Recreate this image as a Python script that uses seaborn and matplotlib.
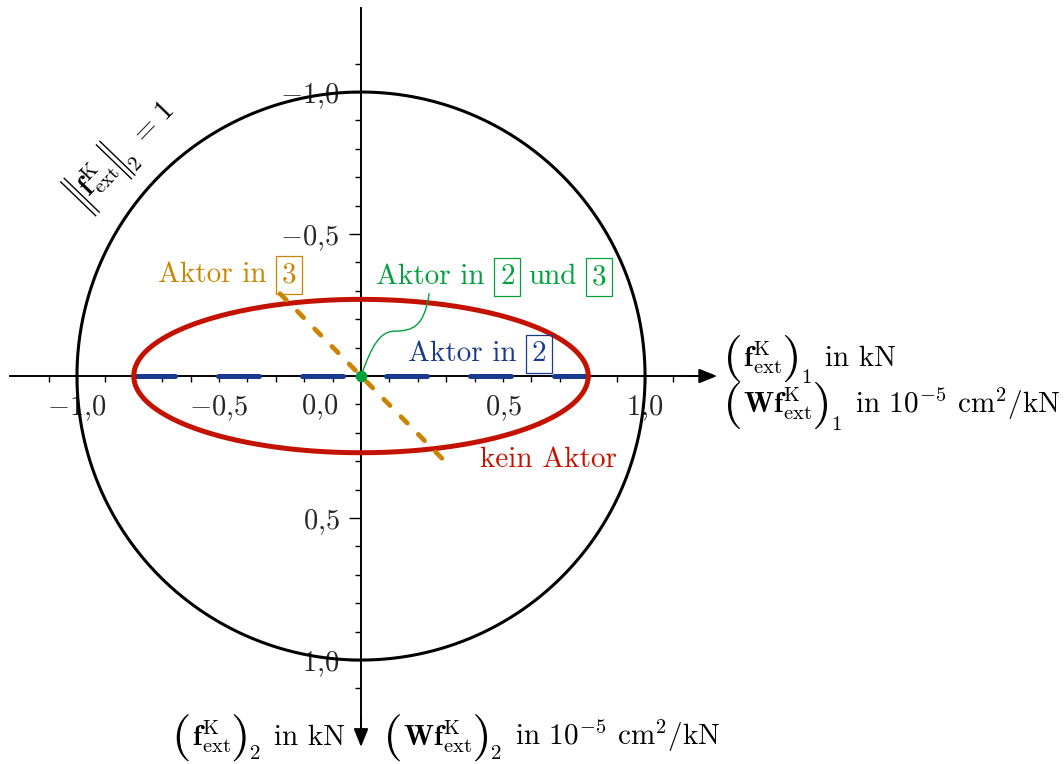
import numpy as np
import matplotlib
matplotlib.use("Agg")
import matplotlib.pyplot as plt
import seaborn as sns
from matplotlib.path import Path
from matplotlib.patches import PathPatch
from matplotlib.textpath import TextPath
from matplotlib.font_manager import FontProperties
from matplotlib.transforms import Affine2D, IdentityTransform
from matplotlib.ticker import FixedLocator

# ---- data -------------------------------------------------------------
circle_radius = 1.0                 # ||f_ext^K||_2 = 1
ellipse_semi_axes = [0.8, 0.27]     # kein Aktor: semi-axes in direction 1 / 2
actor2_span = [-0.8, 0.8]           # Aktor in 2: segment along direction 1
actor3_x = [-0.285, 0.285]          # Aktor in 3: segment end points
actor3_y = [-0.29, 0.29]
actor23_point = [0.0, 0.0]          # Aktor in 2 und 3

major_ticks = [-1.0, -0.5, 0.5, 1.0]
tick_labels = [r"$-1{,}0$", r"$-0{,}5$", r"$0{,}5$", r"$1{,}0$"]
minor_ticks = np.round(np.arange(-1.1, 1.11, 0.1), 2)

# ---- colours ----------------------------------------------------------
RED = "#C41200"
BLUE = "#1A3A8F"
ORANGE = "#CC8400"
GREEN = "#00A03A"

sns.set_theme(style="white")
plt.rcParams["mathtext.fontset"] = "cm"
plt.rcParams["font.family"] = ["cmr10", "DejaVu Serif"]
FS = 21
SUB = 15

fig = plt.figure(figsize=(10.64, 7.64), dpi=100)
ax = fig.add_axes([0, 0, 1, 1])
ax.set_facecolor("white")

# ---- curves -----------------------------------------------------------
t = np.linspace(0, 2 * np.pi, 721)
sns.lineplot(x=circle_radius * np.cos(t), y=circle_radius * np.sin(t),
             sort=False, estimator=None, color="black", lw=2.2, ax=ax, zorder=3)

sns.lineplot(x=actor2_span, y=[0, 0], sort=False, estimator=None,
             color=BLUE, lw=3.6, ax=ax, zorder=3.5,
             linestyle=(0, (8.2, 8.6)), dash_capstyle="round")

a, b = ellipse_semi_axes
sns.lineplot(x=a * np.cos(t), y=b * np.sin(t), sort=False, estimator=None,
             color=RED, lw=3.6, ax=ax, zorder=4)

sns.lineplot(x=actor3_x, y=actor3_y, sort=False, estimator=None,
             color=ORANGE, lw=3.4, ax=ax, zorder=5,
             linestyle=(0, (1.9, 3.32)), dash_capstyle="round")

# leader line from the common point to its label
x0, y0 = actor23_point
lead = np.array([[0.000, 0.000], [0.039, -0.109], [0.067, -0.162],
                 [0.127, -0.158], [0.175, -0.162], [0.222, -0.165],
                 [0.240, -0.292]])
lead = lead + np.array([x0, y0])
codes = [Path.MOVETO] + [Path.CURVE4] * 6
ax.add_patch(PathPatch(Path(lead, codes), fc="none", ec=GREEN, lw=1.0, zorder=6))

sns.scatterplot(x=[x0], y=[y0], color=GREEN, s=70, edgecolor=GREEN,
                linewidth=0, ax=ax, zorder=7)

# ---- axes through the origin -----------------------------------------
ax.set_xlim(-1.271, 2.475)
ax.set_ylim(1.366, -1.324)
ax.set_xlabel("")
ax.set_ylabel("")
for side in ("top", "right"):
    ax.spines[side].set_visible(False)
ax.spines["left"].set_position(("data", 0))
ax.spines["bottom"].set_position(("data", 0))
ax.spines["bottom"].set_bounds(-1.236, 1.22)
ax.spines["left"].set_bounds(-1.296, 1.27)
for side in ("left", "bottom"):
    ax.spines[side].set_linewidth(1.4)
    ax.spines[side].set_color("black")
    ax.spines[side].set_zorder(2.6)

arrow_kw = dict(arrowstyle="-|>,head_length=0.55,head_width=0.22",
                color="black", lw=1.4, mutation_scale=20, shrinkA=0, shrinkB=0)
ax.annotate("", xy=(1.254, 0), xytext=(1.15, 0), arrowprops=arrow_kw, zorder=2.6)
ax.annotate("", xy=(0, 1.306), xytext=(0, 1.2), arrowprops=arrow_kw, zorder=2.6)

ax.set_xticks(major_ticks, labels=tick_labels)
ax.set_yticks(major_ticks, labels=tick_labels)
ax.xaxis.set_minor_locator(FixedLocator(minor_ticks))
ax.yaxis.set_minor_locator(FixedLocator(minor_ticks))
ax.tick_params(axis="x", which="both", direction="out", bottom=True,
               length=4.5, width=1.0, color="black", labelsize=20.5, pad=8)
ax.tick_params(axis="y", which="major", direction="out", left=True,
               length=8.5, width=1.0, color="black", labelsize=20.5, pad=7)
ax.tick_params(axis="y", which="minor", direction="out", left=True,
               length=4, width=1.0, color="black")
ax.grid(False)

ax.annotate(r"$0{,}0$", xy=(0, 0), xytext=(-16.5, -22.5), textcoords="offset points",
            ha="right", va="center", fontsize=20.5)

# ---- text built from pieces (large delimiters, boxed numbers) ---------
renderer = fig.canvas.get_renderer()
CMR = FontProperties(family="cmr10")


def T(s, gap=0.0, fs=FS, dy=0.0, box=False):
    return dict(kind="text", s=s, gap=gap, fs=fs, dy=dy, box=box)


def D(ch, gap=0.0, h=47.0, w=12.0, cy=7.5):
    return dict(kind="delim", ch=ch, gap=gap, h=h, w=w, cy=cy, dy=0.0)


def rich(x, y, pieces, color="black", angle=0.0, align="left"):
    """Lay out pieces along a baseline starting at data point (x, y)."""
    widths = []
    for p in pieces:
        if p["kind"] == "text":
            tmp = fig.text(0, 0, p["s"], fontsize=p["fs"])
            widths.append(tmp.get_window_extent(renderer).width)
            tmp.remove()
        else:
            widths.append(p["w"])
    total = sum(widths) + sum(p["gap"] for p in pieces)
    u = {"left": 0.0, "right": -total, "center": -total / 2}[align]
    px, py = ax.transData.transform((x, y))
    c, s = np.cos(np.radians(angle)), np.sin(np.radians(angle))
    for p, wdt in zip(pieces, widths):
        u += p["gap"]
        v = p["dy"]
        ax_, ay_ = px + u * c - v * s, py + u * s + v * c
        if p["kind"] == "text":
            kw = {}
            if p["box"]:
                kw["bbox"] = dict(boxstyle="square,pad=0.19", fc="none",
                                  ec=color, lw=0.9)
            fig.text(ax_, ay_, p["s"], fontsize=p["fs"], color=color,
                     transform=IdentityTransform(), ha="left", va="baseline",
                     rotation=angle, rotation_mode="anchor", zorder=8, **kw)
        else:
            if p["ch"] == "||":
                hh = p["h"] / 2
                path = Path([(0.75, -hh), (0.75, hh), (p["w"] - 0.75, -hh),
                             (p["w"] - 0.75, hh)],
                            [Path.MOVETO, Path.LINETO, Path.MOVETO, Path.LINETO])
                tr = (Affine2D().translate(0, p["cy"]).rotate_deg(angle)
                      .translate(ax_, ay_))
                fig.add_artist(PathPatch(path, transform=tr, fc="none",
                                         ec=color, lw=1.0, zorder=8))
            else:
                path = TextPath((0, 0), p["ch"], size=40, prop=CMR)
                e = path.get_extents()
                tr = (Affine2D().translate(-e.x0, -(e.y0 + e.y1) / 2)
                      .scale(p["w"] / e.width, p["h"] / e.height)
                      .translate(0, p["cy"]).rotate_deg(angle)
                      .translate(ax_, ay_))
                fig.add_artist(PathPatch(path, transform=tr, fc=color,
                                         ec="none", zorder=8))
        u += wdt


f_ext = r"$\mathbf{f}^{\mathrm{K}}_{\mathrm{ext}}$"
wf_ext = r"$\mathbf{W}\mathbf{f}^{\mathrm{K}}_{\mathrm{ext}}$"
unit_w = r"in $10^{-5}$ cm$^2$/kN"


def comp_label(core, idx, unit, drop=-17):
    return [D("("), T(core, gap=3), D(")", gap=3),
            T(idx, gap=4, fs=SUB, dy=drop), T(unit, gap=14)]


rich(1.292, -0.035, comp_label(f_ext, "1", "in kN"))
rich(1.292, 0.130, comp_label(wf_ext, "1", unit_w))
rich(-0.056, 1.300, comp_label(f_ext, "2", "in kN", drop=-14), align="right")
rich(0.095, 1.300, comp_label(wf_ext, "2", unit_w, drop=-14))

rich(-0.817, -0.771,
     [D("||", h=50, w=6.5, cy=7.5), T(f_ext, gap=3), D("||", gap=3, h=50, w=6.5, cy=7.5),
      T("2", gap=3, fs=SUB, dy=-15), T(r"$=$", gap=9), T("1", gap=9)],
     angle=46, align="center")

rich(-0.715, -0.331, [T("Aktor in"), T(r"$3$", gap=15, box=True)], color=ORANGE)
rich(0.053, -0.324, [T("Aktor in"), T(r"$2$", gap=15, box=True), T("und", gap=13),
                     T(r"$3$", gap=15, box=True)], color=GREEN)
rich(0.165, -0.053, [T("Aktor in"), T(r"$2$", gap=15, box=True)], color=BLUE)
rich(0.419, 0.320, [T("kein Aktor")], color=RED)

fig.savefig("out.png", dpi=100, facecolor="white")
